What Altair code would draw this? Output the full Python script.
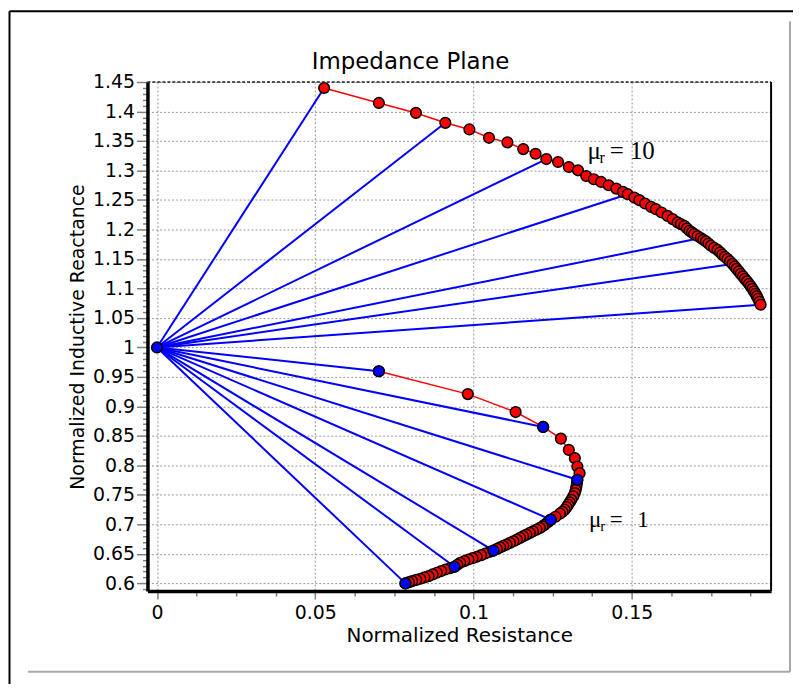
import altair as alt
import pandas as pd

# ---- data ----
# mu_r = 10 curve (upper)
up_x = [0.0528, 0.0701, 0.0818, 0.0911, 0.0987, 0.1049, 0.1107, 0.1157, 0.1196, 0.1230,
        0.1267, 0.1301, 0.1330, 0.1356, 0.1380, 0.1403, 0.1427, 0.1451, 0.1472, 0.1487,
        0.1508, 0.1524, 0.1542, 0.1561, 0.1576, 0.1594, 0.1613, 0.1629, 0.1645, 0.1655,
        0.1666, 0.1674, 0.1682, 0.1690, 0.1697, 0.1708, 0.1718, 0.1726, 0.1734, 0.1742,
        0.1750, 0.1760, 0.1771, 0.1779, 0.1786, 0.1794, 0.1802, 0.1810, 0.1818, 0.1825,
        0.1831, 0.1838, 0.1844, 0.1851, 0.1857, 0.1864, 0.1870, 0.1876, 0.1881, 0.1886,
        0.1891, 0.1895, 0.1899, 0.1903, 0.1907]
up_y = [1.4399, 1.4145, 1.3976, 1.3808, 1.3696, 1.3554, 1.3477, 1.3363, 1.3284, 1.3194,
        1.3144, 1.3059, 1.3003, 1.2907, 1.2852, 1.2806, 1.2750, 1.2693, 1.2637, 1.2598,
        1.2541, 1.2497, 1.2440, 1.2383, 1.2345, 1.2288, 1.2230, 1.2176, 1.2119, 1.2091,
        1.2063, 1.2020, 1.1978, 1.1950, 1.1923, 1.1889, 1.1855, 1.1826, 1.1798, 1.1762,
        1.1725, 1.1689, 1.1653, 1.1613, 1.1573, 1.1537, 1.1501, 1.1458, 1.1416, 1.1374,
        1.1332, 1.1290, 1.1247, 1.1205, 1.1163, 1.1120, 1.1078, 1.1036, 1.0994, 1.0951,
        1.0909, 1.0867, 1.0825, 1.0775, 1.0724]
# mu_r = 1 curve (lower)
lo_x = [0.0701, 0.0982, 0.1133, 0.1220, 0.1276, 0.1301, 0.1320, 0.1328, 0.1335, 0.1328,
        0.1327, 0.1325, 0.1323, 0.1320, 0.1315, 0.1309, 0.1304, 0.1299, 0.1294, 0.1288,
        0.1281, 0.1273, 0.1259, 0.1244, 0.1235, 0.1225, 0.1218, 0.1210, 0.1199, 0.1188,
        0.1178, 0.1167, 0.1157, 0.1147, 0.1137, 0.1126, 0.1115, 0.1104, 0.1094, 0.1084,
        0.1074, 0.1063, 0.1050, 0.1037, 0.1024, 0.1010, 0.0997, 0.0984, 0.0971, 0.0958,
        0.0949, 0.0940, 0.0926, 0.0911, 0.0898, 0.0884, 0.0871, 0.0858, 0.0845, 0.0832,
        0.0819, 0.0806, 0.0796, 0.0785]
lo_y = [0.9597, 0.9209, 0.8905, 0.8652, 0.8454, 0.8263, 0.8123, 0.7981, 0.7869, 0.7756,
        0.7700, 0.7643, 0.7588, 0.7532, 0.7475, 0.7418, 0.7376, 0.7334, 0.7292, 0.7249,
        0.7215, 0.7182, 0.7130, 0.7081, 0.7038, 0.6996, 0.6968, 0.6941, 0.6912, 0.6883,
        0.6855, 0.6827, 0.6800, 0.6772, 0.6743, 0.6714, 0.6686, 0.6659, 0.6635, 0.6611,
        0.6584, 0.6557, 0.6532, 0.6507, 0.6479, 0.6451, 0.6428, 0.6405, 0.6378, 0.6350,
        0.6316, 0.6282, 0.6259, 0.6236, 0.6209, 0.6181, 0.6152, 0.6123, 0.6101, 0.6079,
        0.6059, 0.6039, 0.6020, 0.6000]
# spoke end points
spoke_up_x = [0.0528, 0.0911, 0.1230, 0.1487, 0.1718, 0.1818, 0.1907]
spoke_up_y = [1.4399, 1.3808, 1.3194, 1.2598, 1.1855, 1.1416, 1.0724]
spoke_lo_x = [0.0701, 0.1220, 0.1328, 0.1244, 0.1063, 0.0940, 0.0785]
spoke_lo_y = [0.9597, 0.8652, 0.7756, 0.7081, 0.6557, 0.6282, 0.6000]
origin_x = [0.0]
origin_y = [1.0]

# annotation pieces
lab_text = ["\u03bc", "= 10", "\u03bc", "=", "1"]
lab_x = [0.1360, 0.1430, 0.1365, 0.1430, 0.1517]
lab_y = [1.3189, 1.3189, 0.6951, 0.6951, 0.6951]
lab_size = [25, 25, 23, 23, 23]
sub_text = ["r", "r"]
sub_x = [0.1398, 0.1400]
sub_y = [1.3189, 0.6951]
sub_size = [16, 15]
title_text = ["Impedance Plane"]

x_ticks = [round(i * 0.0125, 4) for i in range(16)]
y_ticks = [round(0.59 + i * 0.01, 2) for i in range(87)]

assert len(up_x) == len(up_y) and len(lo_x) == len(lo_y)

# ---- frames ----
curves = pd.DataFrame({
    "x": up_x + lo_x,
    "y": up_y + lo_y,
    "curve": ["mu10"] * len(up_x) + ["mu1"] * len(lo_x),
    "i": list(range(len(up_x))) + list(range(len(lo_x))),
})
n_sp = len(spoke_up_x) + len(spoke_lo_x)
spokes = pd.DataFrame({
    "x": spoke_up_x + spoke_lo_x,
    "y": spoke_up_y + spoke_lo_y,
    "x0": origin_x * n_sp,
    "y0": origin_y * n_sp,
})
blue = pd.DataFrame({"x": spoke_lo_x + origin_x, "y": spoke_lo_y + origin_y})
labels = pd.DataFrame({"t": lab_text, "x": lab_x, "y": lab_y, "s": lab_size})
subs = pd.DataFrame({"t": sub_text, "x": sub_x, "y": sub_y, "s": sub_size})
titles = pd.DataFrame({"t": title_text})

major = "abs(datum.value*20 - round(datum.value*20)) < 0.001"

xaxis = alt.Axis(
    values=x_ticks,
    labelExpr=f"{major} ? format(datum.value, '~g') : ''",
    labelOverlap=False, labelFlush=False,
    tickSize={"condition": {"test": major, "value": 8}, "value": 5},
    tickColor="#808080", tickWidth=1.5,
    grid=True, gridColor="#9a9a9a", gridDash=[2, 2], gridWidth=1,
    gridOpacity={"condition": {"test": major, "value": 1}, "value": 0},
    domainColor="black", domainWidth=3.5,
    labelFont="DejaVu Sans", labelFontSize=19, labelColor="black", labelPadding=5,
    title="Normalized Resistance", titleFont="DejaVu Sans", titleFontSize=20,
    titleFontWeight="normal", titleColor="black", titlePadding=3,
)
yaxis = alt.Axis(
    values=y_ticks,
    labelExpr=f"{major} ? format(datum.value, '~g') : ''",
    labelOverlap=False, labelFlush=False,
    tickSize={"condition": {"test": major, "value": 11}, "value": 5},
    tickColor="#808080", tickWidth=1.5,
    grid=True, gridColor="#9a9a9a", gridDash=[2, 2], gridWidth=1,
    gridOpacity={"condition": {"test": major, "value": 1}, "value": 0},
    domainColor="black", domainWidth=3.5,
    labelFont="DejaVu Sans", labelFontSize=19, labelColor="black", labelPadding=2,
    title="Normalized Inductive Reactance", titleFont="DejaVu Sans", titleFontSize=19,
    titleFontWeight="normal", titleColor="black", titlePadding=5,
)
xs = alt.Scale(domain=[-0.003, 0.194], nice=False, zero=False)
ys = alt.Scale(domain=[0.587, 1.45], nice=False, zero=False)
X = alt.X("x:Q", scale=xs, axis=xaxis)
Y = alt.Y("y:Q", scale=ys, axis=yaxis)

curve_line = alt.Chart(curves).mark_line(color="#ff0000", strokeWidth=1.5).encode(
    x=X, y=Y, detail="curve:N", order="i:Q")
spoke_rule = alt.Chart(spokes).mark_rule(color="#0000ff", strokeWidth=2).encode(
    x=X, y=Y, x2="x0:Q", y2="y0:Q")
red_pts = alt.Chart(curves).mark_point(
    shape="circle", filled=True, fill="#ff0000", stroke="black", strokeWidth=1.5,
    size=115, opacity=1).encode(x=X, y=Y)
blue_pts = alt.Chart(blue).mark_point(
    shape="circle", filled=True, fill="#0000ff", stroke="black", strokeWidth=1.5,
    size=115, opacity=1).encode(x=X, y=Y)
lab = alt.Chart(labels).mark_text(
    font="Liberation Serif", align="left", baseline="alphabetic", color="black").encode(
    x=X, y=Y, text="t:N", size=alt.Size("s:Q", scale=None, legend=None))
sub = alt.Chart(subs).mark_text(
    font="Liberation Serif", align="left", baseline="alphabetic", color="black", dy=4).encode(
    x=X, y=Y, text="t:N", size=alt.Size("s:Q", scale=None, legend=None))

W, H = 626, 511
title_mark = alt.Chart(titles).mark_text(
    font="DejaVu Sans", fontSize=23, align="center", baseline="alphabetic", color="black").encode(
    text="t:N", x=alt.value(W / 2 - 49), y=alt.value(-13))
# plot frame: dotted top, solid right
top_border = alt.Chart(titles).mark_rule(color="#202020", strokeWidth=1.5, strokeDash=[3, 2]).encode(
    x=alt.value(0), x2=alt.value(W), y=alt.value(0))
right_border = alt.Chart(titles).mark_rule(color="black", strokeWidth=2).encode(
    x=alt.value(W), y=alt.value(0), y2=alt.value(H))
# outer picture frame
outer_left = alt.Chart(titles).mark_rule(color="black", strokeWidth=2).encode(
    x=alt.value(-138.5), y=alt.value(-71), y2=alt.value(640))
outer_top = alt.Chart(titles).mark_rule(color="black", strokeWidth=2).encode(
    x=alt.value(-138.5), x2=alt.value(700), y=alt.value(-71))
gray_h = alt.Chart(titles).mark_rule(color="#a8a8a8", strokeWidth=2).encode(
    x=alt.value(-120), x2=alt.value(645), y=alt.value(592))
gray_v = alt.Chart(titles).mark_rule(color="#a8a8a8", strokeWidth=2).encode(
    x=alt.value(645), y=alt.value(-61), y2=alt.value(592))

chart = alt.layer(
    curve_line, spoke_rule, red_pts, blue_pts, lab, sub, title_mark,
    top_border, right_border, outer_left, outer_top, gray_h, gray_v,
).properties(
    width=W, height=H,
    padding={"left": 140, "top": 73, "right": 22, "bottom": 92},
    autosize=alt.AutoSizeParams(type="none"),
    background="white",
).configure_view(stroke=None)

chart.save("out.html", embed_options={"renderer": "svg", "actions": False})
